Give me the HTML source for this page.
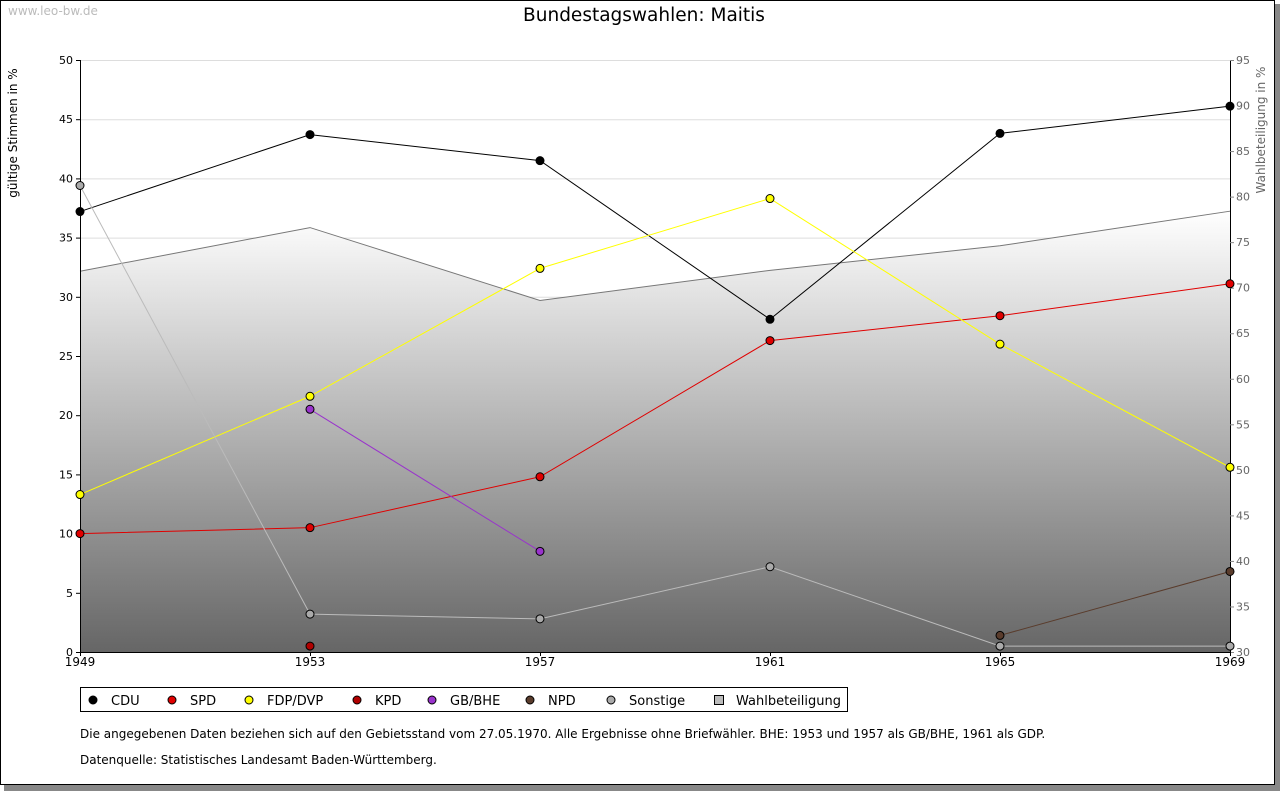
<!DOCTYPE html>
<html><head><meta charset="utf-8"><style>
body{margin:0;background:#fff;width:1280px;height:791px;overflow:hidden;font-family:"DejaVu Sans","Liberation Sans",sans-serif}
</style></head><body>
<svg id="c" width="1280" height="791" xmlns="http://www.w3.org/2000/svg" font-family="DejaVu Sans, Liberation Sans, sans-serif">
<defs><linearGradient id="g" x1="0" y1="0" x2="0" y2="1"><stop offset="0" stop-color="#ffffff"/><stop offset="1" stop-color="#666666"/></linearGradient></defs>
<rect x="4" y="4" width="1276" height="787" fill="#888"/>
<rect x="0.5" y="0.5" width="1274" height="784" fill="#fff" stroke="#000"/>
<text x="8" y="15" font-size="12" fill="#bbb">www.leo-bw.de</text>
<text x="644" y="21" font-size="18.5" text-anchor="middle">Bundestagswahlen: Maitis</text>
<text transform="translate(17,133) rotate(-90)" font-size="12" text-anchor="middle">gültige Stimmen in %</text>
<text transform="translate(1265,130) rotate(-90)" font-size="12" text-anchor="middle" fill="#666">Wahlbeteiligung in %</text>
<g id="plot"></g>
<rect x="80.5" y="687.5" width="767" height="24" fill="#fff" stroke="#000"/>
<g id="legend"></g>
<text x="80" y="738" font-size="12">Die angegebenen Daten beziehen sich auf den Gebietsstand vom 27.05.1970. Alle Ergebnisse ohne Briefwähler. BHE: 1953 und 1957 als GB/BHE, 1961 als GDP.</text>
<text x="80" y="764" font-size="12">Datenquelle: Statistisches Landesamt Baden-Württemberg.</text>
</svg>
<script>
const years=[1949,1953,1957,1961,1965,1969];
const cdu=[37.2,43.7,41.5,28.1,43.8,46.1];
const spd=[10.0,10.5,14.8,26.3,28.4,31.1];
const fdp=[13.3,21.6,32.4,38.3,26.0,15.6];
const kpd=[null,0.5,null,null,null,null];
const bhe=[null,20.5,8.5,null,null,null];
const npd=[null,null,null,null,1.4,6.8];
const sonst=[39.4,3.2,2.8,7.2,0.5,0.5];
const turnout=[71.8,76.6,68.6,71.9,74.6,78.4];
const leftTicks=[0,5,10,15,20,25,30,35,40,45,50];
const rightTicks=[30,35,40,45,50,55,60,65,70,75,80,85,90,95];
const NS='http://www.w3.org/2000/svg';
const X0=80,X1=1230,Y0=652,Y1=60;
const xs=i=>X0+(X1-X0)*i/(years.length-1);
const yl=v=>Y0-(Y0-Y1)*v/50;
const yr=v=>Y0-(Y0-Y1)*(v-30)/65;
const P=document.getElementById('plot');
function mk(t,a,parent){const e=document.createElementNS(NS,t);for(const k in a)e.setAttribute(k,a[k]);(parent||P).appendChild(e);return e;}
leftTicks.forEach(v=>{if(v>0){const l=mk('line',{x1:X0,x2:X1,y1:yl(v)+.5,y2:yl(v)+.5,stroke:'#ddd'});}});
let d='M'+X0+','+Y0;turnout.forEach((v,i)=>d+=' L'+xs(i)+','+yr(v));d+=' L'+X1+','+Y0+' Z';
const ar=mk('path',{d:d,fill:'url(#g)'});
let d2='';turnout.forEach((v,i)=>d2+=(i?' L':'M')+xs(i)+','+yr(v));
const al=mk('path',{d:d2,fill:'none',stroke:'#777'});
const ax=mk('path',{d:`M${X0-4}.5,${Y1}.5 H${X0}.5 V${Y0}.5 H${X1}.5 M${X1}.5,${Y0} V${Y1}.5 H${X1+4}`,fill:'none',stroke:'#000'});
leftTicks.forEach(v=>{mk('line',{x1:X0-4,x2:X0,y1:yl(v)+.5,y2:yl(v)+.5,stroke:'#000'});const t=mk('text',{x:X0-7,y:yl(v)+4,'font-size':11,'text-anchor':'end'});t.textContent=v;});
rightTicks.forEach(v=>{mk('line',{x1:X1,x2:X1+4,y1:yr(v)+.5,y2:yr(v)+.5,stroke:'#888'});const t=mk('text',{x:X1+6,y:yr(v)+4,'font-size':11,fill:'#666'});t.textContent=v;});
years.forEach((y,i)=>{mk('line',{x1:xs(i)+.5,x2:xs(i)+.5,y1:Y0,y2:Y0+4,stroke:'#000'});const t=mk('text',{x:xs(i),y:Y0+14,'font-size':12,'text-anchor':'middle'});t.textContent=y;});
const series=[['cdu',cdu,'#000','#000'],['spd',spd,'#e00000','#e00000'],['fdp',fdp,'#ffff00','#ffff00'],['kpd',kpd,'#b00000','#b00000'],['bhe',bhe,'#9933cc','#9933cc'],['npd',npd,'#5a3c2c','#5a3c2c'],['sonstige',sonst,'#bbb','#aaa']];
series.forEach(([n,arr,c,f])=>{let p='',pen=false;arr.forEach((v,i)=>{if(v==null){pen=false;return;}p+=(pen?' L':' M')+xs(i)+','+yl(v);pen=true;});
 const l=mk('path',{d:p,fill:'none',stroke:c});
 arr.forEach((v,i)=>{if(v==null)return;const m=mk('circle',{cx:xs(i),cy:yl(v),r:4,fill:f,stroke:'#000'});});});
const L=document.getElementById('legend');
const leg=[['CDU','#000',93],['SPD','#e00000',172],['FDP/DVP','#ffff00',249],['KPD','#b00000',357],['GB/BHE','#9933cc',432],['NPD','#5a3c2c',530],['Sonstige','#aaa',611]];
leg.forEach(([n,c,x])=>{const m=mk('circle',{cx:x,cy:700,r:4,fill:c,stroke:'#000'},L);const t=mk('text',{x:x+18,y:705,'font-size':13},L);t.textContent=n;});
const sq=mk('rect',{x:714.5,y:695.5,width:9,height:9,fill:'#bbb',stroke:'#000'},L);
const tw=mk('text',{x:736,y:705,'font-size':13},L);tw.textContent='Wahlbeteiligung';
</script>
</body></html>
